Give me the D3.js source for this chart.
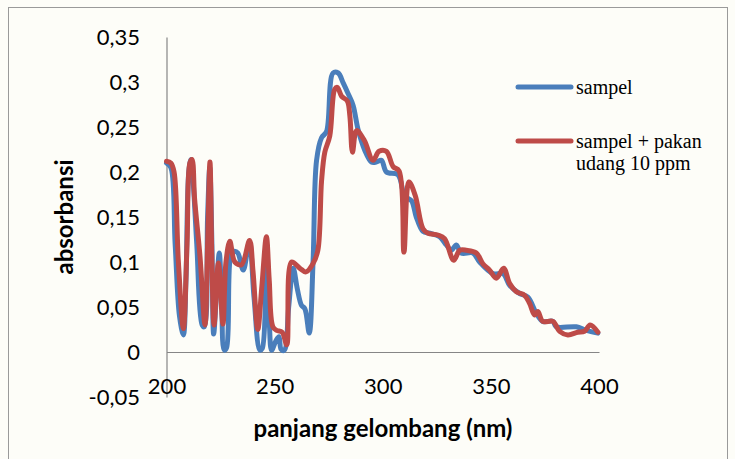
<!DOCTYPE html>
<html>
<head>
<meta charset="utf-8">
<script src="https://cdn.jsdelivr.net/npm/d3@7"></script>
<style>
  html, body { margin: 0; padding: 0; background: #fdfdf8; }
  svg { display: block; }
</style>
</head>
<body>
<svg id="chart" width="735" height="459"></svg>
<script>
// ---- data ----
const xTicks = [200, 250, 300, 350, 400];
const yTicks = [-0.05, 0, 0.05, 0.1, 0.15, 0.2, 0.25, 0.3, 0.35];
const seriesNames = ["sampel", "sampel + pakan udang 10 ppm"];

const sampelX = [200, 202, 204, 206, 207.8, 209, 210.3, 211.3, 212.3, 214, 216.5, 217.5, 219, 220, 221, 221.8, 223, 224.4, 225.5, 226.7,
  227.8, 230, 231.5, 233, 235.5, 238.3, 240.5, 243.2, 244.3, 246.3, 247.6, 248.6, 250.5, 252, 253, 254.5, 256.5, 258.6, 260.5, 262.4,
  264, 266, 267.8, 269.4, 271.7, 274, 277, 279.4, 281.7, 284, 286.3, 288.6, 291.7, 294.8, 297, 299.4, 301.7, 307, 310.2, 313.3,
  315.5, 318.6, 321.7, 326.3, 329.4, 331.7, 334, 336.3, 341.7, 344.8, 351, 355.6, 358.7, 363.3, 367.1, 371, 374, 378.7, 380.2, 389.5,
  394.1, 399.5];
const sampelY = [0.21, 0.205, 0.12, 0.04, 0.019, 0.08, 0.2, 0.214, 0.19, 0.12, 0.03, 0.028, 0.15, 0.205, 0.12, 0.02, 0.06, 0.11, 0.06, 0.002,
  0.005, 0.11, 0.112, 0.11, 0.091, 0.122, 0.06, 0.002, 0.004, 0.12, 0.03, 0.002, 0.012, 0.017, 0.003, 0.002, 0.05, 0.093, 0.07, 0.052,
  0.048, 0.021, 0.102, 0.213, 0.238, 0.245, 0.31, 0.31, 0.299, 0.287, 0.274, 0.247, 0.224, 0.211, 0.211, 0.213, 0.2, 0.197, 0.173, 0.168,
  0.15, 0.134, 0.132, 0.128, 0.119, 0.113, 0.119, 0.11, 0.11, 0.1, 0.087, 0.087, 0.074, 0.065, 0.061, 0.043, 0.034, 0.034, 0.028, 0.028,
  0.024, 0.021];

const pakanX = [200, 202, 203.5, 205.5, 207.8, 209.5, 210.8, 211.8, 213, 215.5, 217.8, 219, 220.1, 221, 222, 224, 226.1, 227.5, 229.3, 231.6,
  234.7, 238.4, 240, 242.2, 244, 246.2, 247.5, 249.2, 251, 253.5, 255.6, 257.8, 261.7, 264.5, 267.8, 270, 271.7, 273.2, 275.5, 277.8,
  279, 281, 283.6, 284.8, 286, 287.9, 291.5, 295.5, 298.3, 301.7, 304.8, 307.6, 309.8, 312.1, 315, 318.6, 320.9, 325.5, 328.6, 332.8,
  335.6, 338.7, 343.3, 346.3, 349.4, 352.5, 355.9, 358.7, 361.8, 365.6, 367.9, 370.2, 371.7, 374, 378.7, 381.8, 385.6, 390.2, 393.3, 395.9,
  399.5];
const pakanY = [0.212, 0.21, 0.2, 0.1, 0.026, 0.12, 0.21, 0.214, 0.17, 0.106, 0.03, 0.12, 0.211, 0.1, 0.03, 0.099, 0.031, 0.1, 0.123, 0.1,
  0.097, 0.124, 0.09, 0.025, 0.07, 0.128, 0.08, 0.028, 0.024, 0.022, 0.008, 0.1, 0.093, 0.089, 0.0985, 0.113, 0.19, 0.222, 0.24, 0.292,
  0.294, 0.284, 0.279, 0.262, 0.222, 0.246, 0.235, 0.213, 0.223, 0.223, 0.206, 0.201, 0.111, 0.189, 0.174, 0.137, 0.132, 0.13, 0.126, 0.102,
  0.113, 0.113, 0.11, 0.098, 0.091, 0.082, 0.093, 0.076, 0.067, 0.063, 0.054, 0.041, 0.045, 0.034, 0.034, 0.023, 0.019, 0.022, 0.023, 0.03,
  0.022];

// ---- drawing ----
const svg = d3.select("#chart");
const colors = ["#4a7ebb", "#be4b48"];
const sans = "Lato, 'Open Sans', sans-serif";

// outer chart frame
svg.append("rect").attr("x", 8.5).attr("y", 7.5).attr("width", 719).attr("height", 470)
  .attr("fill", "#fdfdf8").attr("stroke", "#9a9a9a").attr("stroke-width", 1);

const x = d3.scaleLinear().domain([200, 400]).range([166.5, 599]);
const y = d3.scaleLinear().domain([-0.05, 0.35]).range([397, 37]);

const fmt = v => (Math.round(v * 100) / 100).toString().replace(".", ",");

// y axis (no tick marks, labels only)
const yAxis = d3.axisLeft(y).tickValues(yTicks).tickSize(0).tickPadding(0).tickFormat(fmt);
const gy = svg.append("g").attr("transform", `translate(${x(200)},0)`).call(yAxis);
gy.select(".domain").attr("stroke", "#868686").attr("stroke-width", 1.2);
gy.selectAll("text").attr("x", 140 - x(200)).attr("dy", "0.36em")
  .attr("font-family", sans).attr("font-size", 22).attr("fill", "#000");

// x axis at y = 0
const xAxis = d3.axisBottom(x).tickValues(xTicks).tickSize(0).tickPadding(0).tickFormat(d3.format("d"));
const gx = svg.append("g").attr("transform", `translate(0,${y(0)})`).call(xAxis);
gx.select(".domain").attr("stroke", "#868686").attr("stroke-width", 1.2);
gx.selectAll("text").attr("y", 394 - y(0)).attr("dy", 0)
  .attr("font-family", sans).attr("font-size", 22).attr("fill", "#000");

// axis titles
svg.append("text").attr("x", 383).attr("y", 437).attr("text-anchor", "middle")
  .attr("font-family", sans).attr("font-weight", "bold").attr("font-size", 24)
  .text("panjang gelombang (nm)");
svg.append("text").attr("transform", "translate(73,217) rotate(-90)").attr("text-anchor", "middle")
  .attr("font-family", sans).attr("font-weight", "bold").attr("font-size", 24)
  .text("absorbansi");

// series
const line = d3.line().x(d => x(d[0])).y(d => y(d[1])).curve(d3.curveCatmullRom.alpha(0.5));
const series = [d3.zip(sampelX, sampelY), d3.zip(pakanX, pakanY)];
series.forEach((s, i) => {
  svg.append("path").datum(s).attr("d", line).attr("fill", "none")
    .attr("stroke", colors[i]).attr("stroke-width", 5).attr("stroke-linejoin", "round").attr("stroke-linecap", "round");
});

// legend
const legend = [
  { y: 87, lines: ["sampel"], ty: 94 },
  { y: 141, lines: ["sampel + pakan", "udang 10 ppm"], ty: 148 }
];
legend.forEach((l, i) => {
  svg.append("line").attr("x1", 518).attr("x2", 571).attr("y1", l.y).attr("y2", l.y)
    .attr("stroke", colors[i]).attr("stroke-width", 5).attr("stroke-linecap", "round");
  const t = svg.append("text").attr("x", 576).attr("y", l.ty)
    .attr("font-family", "'Liberation Serif', 'Times New Roman', serif").attr("font-size", 20).attr("fill", "#000");
  l.lines.forEach((s, j) => t.append("tspan").attr("x", 576).attr("dy", j === 0 ? 0 : 22).text(s));
});
</script>
</body>
</html>
